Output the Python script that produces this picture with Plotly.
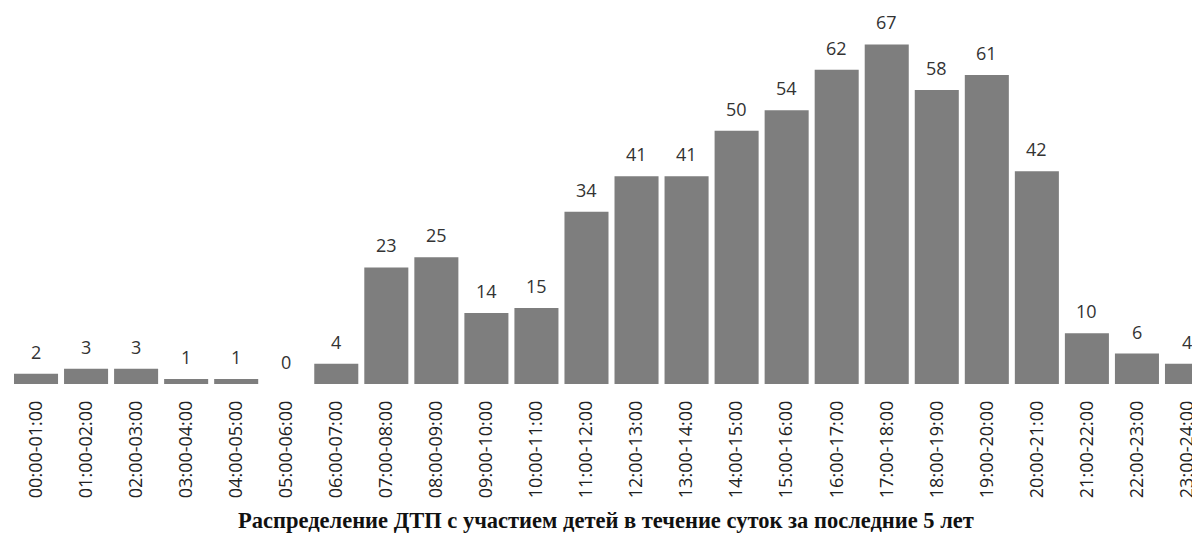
import plotly.graph_objects as go

categories = ["00:00-01:00", "01:00-02:00", "02:00-03:00", "03:00-04:00", "04:00-05:00",
              "05:00-06:00", "06:00-07:00", "07:00-08:00", "08:00-09:00", "09:00-10:00",
              "10:00-11:00", "11:00-12:00", "12:00-13:00", "13:00-14:00", "14:00-15:00",
              "15:00-16:00", "16:00-17:00", "17:00-18:00", "18:00-19:00", "19:00-20:00",
              "20:00-21:00", "21:00-22:00", "22:00-23:00", "23:00-24:00"]
values = [2, 3, 3, 1, 1, 0, 4, 23, 25, 14, 15, 34, 41, 41, 50, 54, 62, 67, 58, 61, 42, 10, 6, 4]
title_text = "Распределение ДТП с участием детей в течение суток за последние 5 лет"

idx = list(range(len(categories)))

fig = go.Figure()
fig.add_trace(go.Bar(
    x=idx, y=values, width=0.88,
    marker=dict(color="#7e7e7e", line=dict(width=0)),
    hoverinfo="skip",
))

for i, v in zip(idx, values):
    fig.add_annotation(x=i, y=v, text=str(v), showarrow=False,
                       yshift=22, xref="x", yref="y",
                       font=dict(family="Open Sans", size=18, color="#333333"))

fig.add_annotation(x=0.5, y=-0.362, xref="paper", yref="paper",
                   text="<b>" + title_text + "</b>", showarrow=False,
                   font=dict(family="Liberation Serif", size=22.5, color="#111111"),
                   yanchor="middle", xanchor="center")

fig.update_layout(
    width=1192, height=542,
    margin=dict(l=3, r=0, t=0, b=166),
    paper_bgcolor="white", plot_bgcolor="white",
    showlegend=False,
    bargap=0.12,
    xaxis=dict(
        range=[-0.5, 23.26],
        tickmode="array", tickvals=idx, ticktext=categories,
        tickangle=-90, showgrid=False, zeroline=False, showline=False,
        ticks="", ticklabelstandoff=12,
        tickfont=dict(family="Open Sans", size=18, color="#222222"),
    ),
    yaxis=dict(range=[0, 74.2], visible=False, showgrid=False, zeroline=False),
)

fig.write_html("out.html")
